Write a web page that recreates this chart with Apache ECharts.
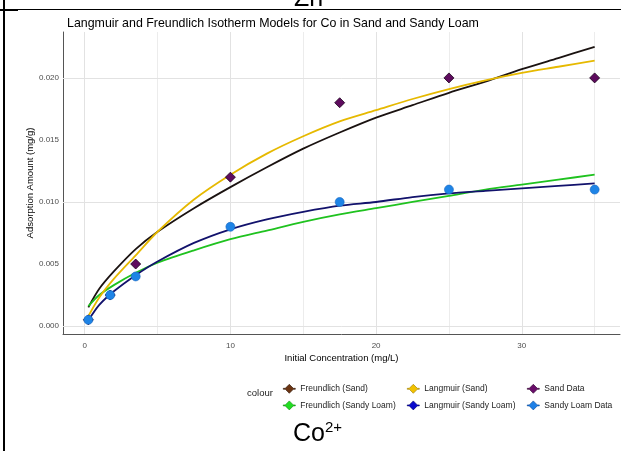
<!DOCTYPE html>
<html>
<head>
<meta charset="utf-8">
<script src="https://cdn.jsdelivr.net/npm/echarts@6/dist/echarts.min.js"></script>
<style>
  html, body { margin: 0; padding: 0; background: #fff; }
  #chart { width: 621px; height: 451px; }
</style>
</head>
<body>
<div id="chart"></div>
<script>
// fitted model curves
const conc = [0.25, 1, 2, 3.5, 5, 7.5, 10, 12.5, 15, 17.5, 20, 22.5, 25, 27.5, 30, 32.5, 35];
const freundlichSand = [0.0015, 0.0030, 0.0044, 0.0062, 0.0076, 0.0095, 0.0112, 0.0128, 0.0143, 0.0156, 0.0168, 0.0178, 0.0188, 0.0197, 0.0207, 0.0216, 0.0225];
const langmuirSand = [0.0008, 0.0023, 0.0038, 0.0057, 0.0076, 0.0102, 0.0122, 0.0139, 0.0153, 0.0165, 0.0174, 0.0183, 0.0191, 0.0198, 0.0204, 0.0209, 0.0214];
const freundlichLoam = [0.0016, 0.0025, 0.0033, 0.0043, 0.0051, 0.0061, 0.0070, 0.0077, 0.0084, 0.0090, 0.0095, 0.0100, 0.0105, 0.0110, 0.0114, 0.0118, 0.0122];
const langmuirLoam = [0.00045, 0.0017, 0.0028, 0.0041, 0.0052, 0.0067, 0.0078, 0.0086, 0.0092, 0.0097, 0.0100, 0.0104, 0.0107, 0.0109, 0.0111, 0.0113, 0.0115];

// measured points
const dataConc = [0.25, 1.75, 3.5, 10, 17.5, 25, 35];
const sandData = [0.0005, 0.0025, 0.005, 0.012, 0.018, 0.020, 0.020];
const loamData = [0.0005, 0.0025, 0.004, 0.008, 0.010, 0.011, 0.011];

// axes
const xLabels = [0, 10, 20, 30];
const xMinor = [5, 15, 25, 35];
const yLabels = [0, 0.005, 0.010, 0.015, 0.020];
const yMinor = [0.0025, 0.0075, 0.0125, 0.0175, 0.0225];

const FONT = '"Liberation Sans", Arial, sans-serif';
const pairs = (xs, ys) => xs.map((x, i) => [x, ys[i]]);
const keyIcon = 'path://M0,4L2,4L6,0L10,4L12,4L12,5L10,5L6,9L2,5L0,5Z';

const chart = echarts.init(document.getElementById('chart'), null, { renderer: 'canvas' });

function curve(name, ys, color) {
  return {
    name, type: 'line', data: pairs(conc, ys), smooth: 0.3,
    showSymbol: false, symbol: 'none', z: 10, silent: true,
    lineStyle: { color, width: 1.8 }, itemStyle: { color }
  };
}

const gridLine = (c, w) => ({ color: c, width: w, type: 'solid' });
const legendCol = (left, items) => ({
  left, top: 379, orient: 'vertical', itemGap: 7, itemWidth: 12, itemHeight: 9,
  textStyle: { fontSize: 8.5, color: '#222' },
  data: items
});

const option = {
  animation: false,
  textStyle: { fontFamily: FONT },
  title: {
    text: 'Langmuir and Freundlich Isotherm Models for Co in Sand and Sandy Loam',
    left: 62, top: 13,
    textStyle: { fontSize: 12.4, fontWeight: 'normal', color: '#000', fontFamily: FONT }
  },
  grid: { left: 63, right: 1, top: 32, bottom: 117 },
  xAxis: {
    type: 'value', min: -1.49, max: 36.74,
    name: 'Initial Concentration (mg/L)', nameLocation: 'middle', nameGap: 19,
    nameMoveOverlap: false,
    nameTextStyle: { fontSize: 9.5, color: '#000' },
    axisLine: { show: true, onZero: false, lineStyle: { color: '#555', width: 1 } },
    axisTick: { show: false },
    splitLine: { show: false },
    axisLabel: { customValues: xLabels, fontSize: 8, color: '#4d4d4d', margin: 8 }
  },
  yAxis: {
    type: 'value', min: -0.00064, max: 0.0237,
    name: 'Adsorption Amount (mg/g)', nameLocation: 'middle', nameGap: 28,
    nameMoveOverlap: false,
    nameTextStyle: { fontSize: 9.5, color: '#000' },
    axisLine: { show: true, onZero: false, lineStyle: { color: '#555', width: 1 } },
    axisTick: { show: false },
    splitLine: { show: false },
    axisLabel: {
      customValues: yLabels, fontSize: 8, color: '#4d4d4d', margin: 4,
      formatter: v => v.toFixed(3)
    }
  },
  legend: [
    legendCol(278, [
      { name: 'Freundlich (Sand)', icon: keyIcon, itemStyle: { color: '#6b3412', borderColor: '#2a1205', borderWidth: 0.6 } },
      { name: 'Freundlich (Sandy Loam)', icon: keyIcon, itemStyle: { color: '#22dd22', borderColor: '#118811', borderWidth: 0.6 } }
    ]),
    legendCol(402, [
      { name: 'Langmuir (Sand)', icon: keyIcon, itemStyle: { color: '#f2c200', borderColor: '#9a7a00', borderWidth: 0.6 } },
      { name: 'Langmuir (Sandy Loam)', icon: keyIcon, itemStyle: { color: '#0a0acc', borderColor: '#000066', borderWidth: 0.6 } }
    ]),
    legendCol(522, [
      { name: 'Sand Data', icon: keyIcon, itemStyle: { color: '#6a0d6a', borderColor: '#2a002a', borderWidth: 0.6 } },
      { name: 'Sandy Loam Data', icon: keyIcon, itemStyle: { color: '#1e80e6', borderColor: '#0a4a99', borderWidth: 0.6 } }
    ])
  ],
  series: [
    {
      name: 'grid', type: 'line', data: [], z: 1, silent: true,
      markLine: {
        z: 1, silent: true, symbol: ['none', 'none'], label: { show: false },
        emphasis: { disabled: true },
        data: [
          ...xMinor.map(v => ({ xAxis: v, lineStyle: gridLine('#ececec', 1) })),
          ...yMinor.map(v => ({ yAxis: v, lineStyle: gridLine('#ececec', 1) })),
          ...xLabels.map(v => ({ xAxis: v, lineStyle: gridLine('#e2e2e2', 1) })),
          ...yLabels.map(v => ({ yAxis: v, lineStyle: gridLine('#e2e2e2', 1) }))
        ]
      }
    },
    curve('Freundlich (Sand)', freundlichSand, '#1a1210'),
    curve('Freundlich (Sandy Loam)', freundlichLoam, '#1fc21f'),
    curve('Langmuir (Sand)', langmuirSand, '#e6b900'),
    curve('Langmuir (Sandy Loam)', langmuirLoam, '#12126c'),
    {
      name: 'Sand Data', type: 'scatter', data: pairs(dataConc, sandData), z: 11,
      symbol: 'diamond', symbolSize: 10,
      itemStyle: { color: '#5e0b5e', opacity: 1, borderColor: '#1a001a', borderWidth: 0.8 }
    },
    {
      name: 'Sandy Loam Data', type: 'scatter', data: pairs(dataConc, loamData), z: 12,
      symbol: 'circle', symbolSize: 9,
      itemStyle: { color: '#1e84e6', opacity: 1, borderColor: '#1565c0', borderWidth: 0.6 }
    }
  ],
  graphic: [
    { type: 'rect', shape: { x: 3, y: 0, width: 2, height: 451 }, style: { fill: '#000' }, silent: true },
    { type: 'rect', shape: { x: 0, y: 9, width: 621, height: 1 }, style: { fill: '#000' }, silent: true },
    { type: 'rect', shape: { x: 0, y: 9, width: 18, height: 2 }, style: { fill: '#000' }, silent: true },
    { type: 'text', left: 294, top: -13,
      style: { text: 'Zn', font: '25px ' + FONT, fill: '#000' }, silent: true },
    { type: 'text', left: 247, top: 388,
      style: { text: 'colour', font: '9.5px ' + FONT, fill: '#222' }, silent: true },
    { type: 'text', left: 293, top: 420,
      style: {
        text: '{a|Co}{b|2+}',
        rich: {
          a: { fontSize: 25, fontFamily: FONT, fill: '#000', verticalAlign: 'bottom' },
          b: { fontSize: 15, fontFamily: FONT, fill: '#000', verticalAlign: 'top', padding: [0, 0, 12, 0] }
        }
      }, silent: true }
  ]
};

chart.setOption(option);
</script>
</body>
</html>
